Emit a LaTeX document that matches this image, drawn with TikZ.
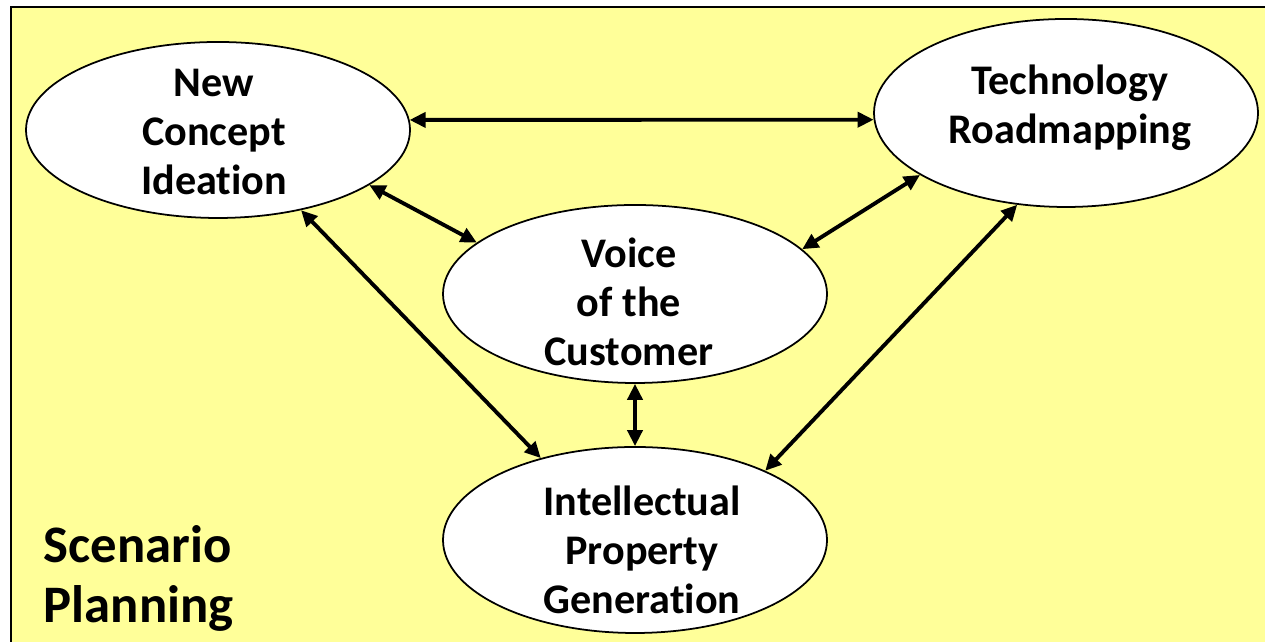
\documentclass[tikz,border=0pt]{standalone}
\usepackage{fontspec}
\setmainfont{Carlito}[Ligatures=CommonOff]
\usepackage{tikz}
\usetikzlibrary{arrows.meta,positioning,shapes.geometric}
\definecolor{padyellow}{HTML}{FFFF99}

\begin{document}
\begin{tikzpicture}[
  bubble/.style={ellipse,draw,line width=0.5pt,fill=white,minimum width=3.84cm,inner sep=0pt},
  words/.style={align=center,inner sep=0pt,font=\fontsize{12}{14}\selectfont\bfseries},
  caption/.style={align=left,inner sep=0pt,font=\fontsize{15}{17}\selectfont\bfseries},
  link/.style={line width=1.1pt,{Triangle[length=1.6mm,width=1.5mm]}-{Triangle[length=1.6mm,width=1.5mm]}}
]
\useasboundingbox (0,0) rectangle (12.65,6.42);
% background panel
\fill[padyellow] (0.11,0) rectangle (12.65,6.35);
\draw[line width=0.7pt] (0.11,0) |- (12.65,6.35);

% the four bubbles
\node[bubble,minimum height=1.76cm] (nci) at (2.18,5.12) {};
\node[bubble,minimum height=1.88cm] (tr) at (10.66,5.29) {};
\node[bubble,minimum height=1.78cm] (voc) at (6.35,3.48) {};
\node[bubble,minimum height=1.86cm] (ipg) at (6.35,1.02) {};

\node[words] (nci-text) at ([xshift=-0.04cm,yshift=-0.02cm]nci.center) {New\\Concept\\Ideation};
\node[words] (tr-text) at ([xshift=0.04cm,yshift=0.05cm]tr.center) {Technology\\Roadmapping};
\node[words] (voc-text) at ([xshift=-0.06cm,yshift=-0.08cm]voc.center) {Voice\\of the\\Customer};
\node[words] (ipg-text) at ([xshift=0.07cm,yshift=-0.1cm]ipg.center) {Intellectual\\Property\\Generation};

\node[caption,anchor=north west] (scen) at (0.43,1.17) {Scenario\\Planning};

% links
\draw[link] (nci.3) -- (tr.182);
\draw[link] (nci.-20) -- (voc.162);
\draw[link] (tr.203) -- (voc.15);
\draw[link] (nci.-44) -- (ipg.139);
\draw[link] (tr.242) -- (ipg.28);
\draw[link] (voc.south) -- (ipg.north);
\end{tikzpicture}
\end{document}
